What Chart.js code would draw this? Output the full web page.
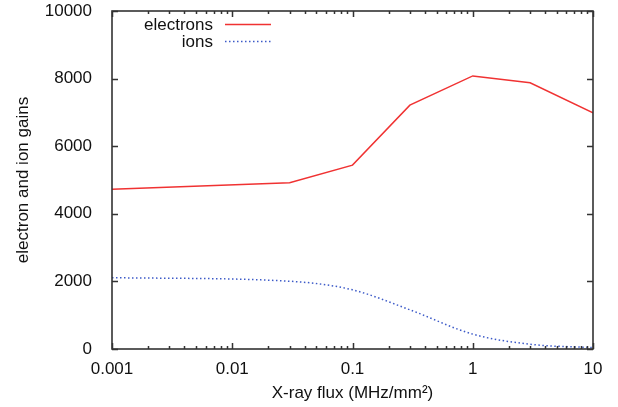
<!DOCTYPE html>
<html>
<head>
<meta charset="utf-8">
<script src="https://cdn.jsdelivr.net/npm/chart.js@4/dist/chart.umd.min.js"></script>
<style>
  html, body { margin: 0; padding: 0; background: #fff; }
  #wrap { width: 618px; height: 407px; }
</style>
</head>
<body>
<div id="wrap"><canvas id="gainChart" width="618" height="407"></canvas></div>
<script>
// X-ray flux (MHz/mm2)
var fluxValues = [0.001, 0.03, 0.1, 0.3, 1, 3, 10];
// gains
var electronGains = [4725, 4920, 5440, 7215, 8080, 7875, 6985];
var ionGains = [2110, 2005, 1750, 1160, 440, 140, 40];

var xTickValues = [0.001, 0.01, 0.1, 1, 10];
var yTickValues = [0, 2000, 4000, 6000, 8000, 10000];

var FONT = '"Liberation Sans", Arial, Helvetica, sans-serif';

function toPoints(xs, ys) {
    var pts = [];
    for (var i = 0; i < xs.length; i++) {
        pts.push({ x: xs[i], y: ys[i] });
    }
    return pts;
}

// gnuplot-like frame with inward ticks on all four sides
var frameTicks = {
    id: 'frameTicks',
    afterDraw: function (chart) {
        var ctx = chart.ctx;
        var a = chart.chartArea;
        var xs = chart.scales.x;
        var ys = chart.scales.y;
        ctx.save();
        ctx.strokeStyle = '#333';
        ctx.lineWidth = 1.5;
        ctx.beginPath();

        for (var d = -3; d <= 1; d++) {
            for (var m = 1; m <= 9; m++) {
                var v = m * Math.pow(10, d);
                if (v > 10) break;
                var px = Math.round(xs.getPixelForValue(v)) + 0.5;
                var len = (m === 1) ? 6 : 3;
                ctx.moveTo(px, a.bottom);
                ctx.lineTo(px, a.bottom - len);
                ctx.moveTo(px, a.top);
                ctx.lineTo(px, a.top + len);
            }
        }
        for (var i = 0; i < yTickValues.length; i++) {
            var py = Math.round(ys.getPixelForValue(yTickValues[i])) + 0.5;
            ctx.moveTo(a.left, py);
            ctx.lineTo(a.left + 6, py);
            ctx.moveTo(a.right, py);
            ctx.lineTo(a.right - 6, py);
        }
        ctx.stroke();

        ctx.lineWidth = 1.6;
        ctx.strokeRect(a.left, a.top, a.right - a.left, a.bottom - a.top);
        ctx.restore();
    }
};

// key in the top left corner: label right-aligned, sample on its right
var gnuKey = {
    id: 'gnuKey',
    afterDraw: function (chart) {
        var ctx = chart.ctx;
        var a = chart.chartArea;
        var textRight = a.left + 101;
        var sampleLeft = a.left + 113;
        var sampleRight = a.left + 159;
        ctx.save();
        ctx.font = '17px ' + FONT;
        ctx.textAlign = 'right';
        ctx.textBaseline = 'middle';
        chart.data.datasets.forEach(function (ds, i) {
            var y = a.top + 14 + i * 17;
            ctx.fillStyle = '#111';
            ctx.fillText(ds.label, textRight, y);
            ctx.strokeStyle = ds.borderColor;
            ctx.lineWidth = ds.borderWidth;
            ctx.setLineDash(ds.borderDash || []);
            ctx.beginPath();
            ctx.moveTo(sampleLeft, y - 0.5);
            ctx.lineTo(sampleRight, y - 0.5);
            ctx.stroke();
        });
        ctx.restore();
    }
};

var ctxL = document.getElementById('gainChart').getContext('2d');
var gainChart = new Chart(ctxL, {
    type: 'line',
    data: {
        datasets: [{
            label: 'electrons',
            data: toPoints(fluxValues, electronGains),
            borderColor: 'rgb(240, 50, 50)',
            backgroundColor: 'rgb(240, 50, 50)',
            borderWidth: 1.5,
            pointRadius: 0,
            fill: false
        },
        {
            label: 'ions',
            data: toPoints(fluxValues, ionGains),
            borderColor: 'rgb(60, 90, 200)',
            backgroundColor: 'rgb(60, 90, 200)',
            borderWidth: 1.5,
            borderDash: [1.5, 2.5],
            cubicInterpolationMode: 'monotone',
            pointRadius: 0,
            fill: false
        }]
    },
    options: {
        responsive: false,
        animation: false,
        layout: {
            padding: { top: 11, right: 25, bottom: 0, left: 0 }
        },
        plugins: {
            legend: { display: false },
            tooltip: { enabled: false }
        },
        scales: {
            x: {
                type: 'logarithmic',
                min: 0.001,
                max: 10,
                grid: { display: false },
                border: { display: false },
                afterBuildTicks: function (scale) {
                    scale.ticks = xTickValues.map(function (v) { return { value: v }; });
                },
                afterFit: function (scale) {
                    scale.height = 58;
                    scale.paddingLeft = 0;
                    scale.paddingRight = 0;
                },
                ticks: {
                    autoSkip: false,
                    maxRotation: 0,
                    padding: 2,
                    color: '#111',
                    font: { family: FONT, size: 17 },
                    callback: function (v) { return String(v); }
                },
                title: {
                    display: true,
                    text: 'X-ray flux (MHz/mm\u00B2)',
                    color: '#111',
                    font: { family: FONT, size: 17 },
                    padding: { top: 0, bottom: 3 }
                }
            },
            y: {
                type: 'linear',
                min: 0,
                max: 10000,
                grid: { display: false },
                border: { display: false },
                afterBuildTicks: function (scale) {
                    scale.ticks = yTickValues.map(function (v) { return { value: v }; });
                },
                afterFit: function (scale) {
                    scale.width = 112;
                    scale.paddingTop = 0;
                    scale.paddingBottom = 0;
                },
                ticks: {
                    padding: 12,
                    color: '#111',
                    font: { family: FONT, size: 17 },
                    callback: function (v) { return String(v); }
                },
                title: {
                    display: true,
                    text: 'electron and ion gains',
                    color: '#111',
                    font: { family: FONT, size: 17 },
                    padding: { top: 13, bottom: 0 }
                }
            }
        }
    },
    plugins: [frameTicks, gnuKey]
});
</script>
</body>
</html>
